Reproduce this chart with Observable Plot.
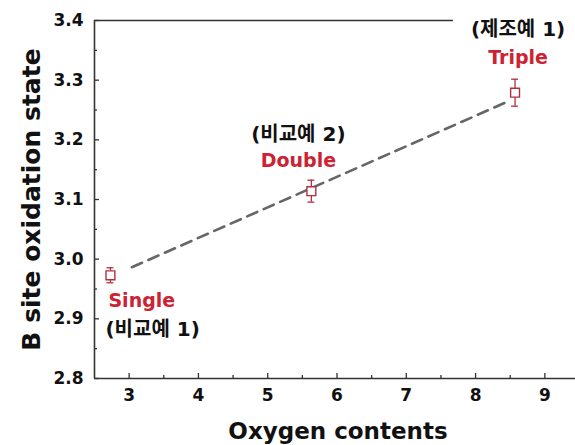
<!DOCTYPE html>
<html>
<head>
<meta charset="utf-8">
<script src="https://cdn.jsdelivr.net/npm/d3@7"></script>
<script src="https://cdn.jsdelivr.net/npm/@observablehq/plot@0.6"></script>
<style>
  html, body { margin: 0; padding: 0; background: #fff; }
  #chart svg { display: block; }
</style>
</head>
<body>
<div id="chart"></div>
<script>
// ---- data ----
const samples   = ["Single", "Double", "Triple"];
const refLabels = ["(비교예 1)", "(비교예 2)", "(제조예 1)"];
const oxygen    = [2.73, 5.63, 8.57];
const bsite     = [2.973, 3.114, 3.279];
const bsiteErr  = [0.0126, 0.0184, 0.0226];
const fitOxygen = [3.04, 8.5];
const fitBsite  = [2.9865, 3.266];
const xTicks = [3, 4, 5, 6, 7, 8, 9];
const xMinor = [3.5, 4.5, 5.5, 6.5, 7.5, 8.5];
const yTicks = [2.8, 2.9, 3.0, 3.1, 3.2, 3.3, 3.4];
const yMinor = [2.85, 2.95, 3.05, 3.15, 3.25, 3.35];

const pts = samples.map((s, i) => ({
  sample: s, ref: refLabels[i], x: oxygen[i], y: bsite[i],
  lo: bsite[i] - bsiteErr[i], hi: bsite[i] + bsiteErr[i]
}));
const fit = fitOxygen.map((x, i) => ({x, y: fitBsite[i]}));

const RED = "#cc2233";
const MARK = "#b03040";
const AX = "#333";
const FONT = "DejaVu Sans, Noto Sans CJK KR, sans-serif";
const capHalf = 0.05;
const topLineEnd = 7.68;

function label(i, dx, dy1, dy2, anchor) {
  const d = [pts[i]];
  return [
    Plot.text(d, {x: "x", y: "y", text: "sample", dx, dy: dy1, textAnchor: anchor,
      fill: RED, fontSize: 19, fontWeight: "bold", fontFamily: FONT}),
    Plot.text(d, {x: "x", y: "y", text: "ref", dx: dx + (i === 0 ? -3 : 0), dy: dy2, textAnchor: anchor,
      fill: "#111", fontSize: 20, fontWeight: "bold", fontFamily: FONT})
  ];
}

const chart = Plot.plot({
  width: 575,
  height: 445,
  marginLeft: 94,
  marginRight: 0,
  marginTop: 20,
  marginBottom: 67,
  style: {fontFamily: FONT, fontWeight: "bold", background: "#fff"},
  x: {domain: [2.5, 9.5], range: [94, 579]},
  y: {domain: [2.8, 3.4], range: [378, 20]},
  marks: [
    // tick labels
    Plot.axisX({ticks: xTicks, tickSize: 0, tickPadding: 10, label: null,
      tickFormat: d3.format("d"), fontSize: 17, fontWeight: "bold", fill: "#111"}),
    Plot.axisY({ticks: yTicks, tickSize: 0, tickPadding: 11, label: null,
      tickFormat: d3.format(".1f"), fontSize: 17, fontWeight: "bold", fill: "#111"}),
    // inward ticks
    Plot.axisX({ticks: xTicks, tickSize: 5, dy: -5, tickFormat: () => "", label: null, stroke: AX, strokeWidth: 1.3}),
    Plot.axisX({ticks: xMinor, tickSize: 3, dy: -3, tickFormat: () => "", label: null, stroke: AX, strokeWidth: 1.3}),
    Plot.axisY({ticks: yTicks, tickSize: 5, dx: 5, tickFormat: () => "", label: null, stroke: AX, strokeWidth: 1.3}),
    Plot.axisY({ticks: yMinor, tickSize: 3, dx: 3, tickFormat: () => "", label: null, stroke: AX, strokeWidth: 1.3}),
    // frame lines
    Plot.ruleX([2.5], {y1: 2.8, y2: 3.4, stroke: AX, strokeWidth: 1.6}),
    Plot.ruleY([2.8], {x1: 2.5, x2: 9.5, stroke: AX, strokeWidth: 1.6}),
    Plot.ruleY([3.4], {x1: 2.5, x2: topLineEnd, stroke: AX, strokeWidth: 1.6}),
    // axis titles
    Plot.text(["B site oxidation state"], {frameAnchor: "left", rotate: -90, dx: -63,
      textAnchor: "middle", lineAnchor: "middle",
      fontSize: 25, fontWeight: "bold", fill: "#111", fontFamily: FONT}),
    Plot.text(["Oxygen contents"], {frameAnchor: "bottom", dx: 3, dy: 53,
      textAnchor: "middle", lineAnchor: "middle",
      fontSize: 23, fontWeight: "bold", fill: "#111", fontFamily: FONT}),
    // dashed fit line
    Plot.line(fit, {x: "x", y: "y", stroke: "#666", strokeWidth: 2.6, strokeDasharray: "11,7"}),
    // error bars
    Plot.ruleX(pts, {x: "x", y1: "lo", y2: "hi", stroke: MARK, strokeWidth: 1.3}),
    Plot.ruleY(pts, {y: "hi", x1: d => d.x - capHalf, x2: d => d.x + capHalf, stroke: MARK, strokeWidth: 1.3}),
    Plot.ruleY(pts, {y: "lo", x1: d => d.x - capHalf, x2: d => d.x + capHalf, stroke: MARK, strokeWidth: 1.3}),
    // markers
    Plot.dot(pts, {x: "x", y: "y", symbol: "square", r: 5, fill: "#fff", stroke: MARK, strokeWidth: 1.4}),
    // annotations
    ...label(0, -2, 26, 54, "start"),
    ...label(1, -13, -30, -57, "middle"),
    ...label(2, 3, -35, -63, "middle")
  ]
});
document.getElementById("chart").appendChild(chart);
</script>
</body>
</html>
